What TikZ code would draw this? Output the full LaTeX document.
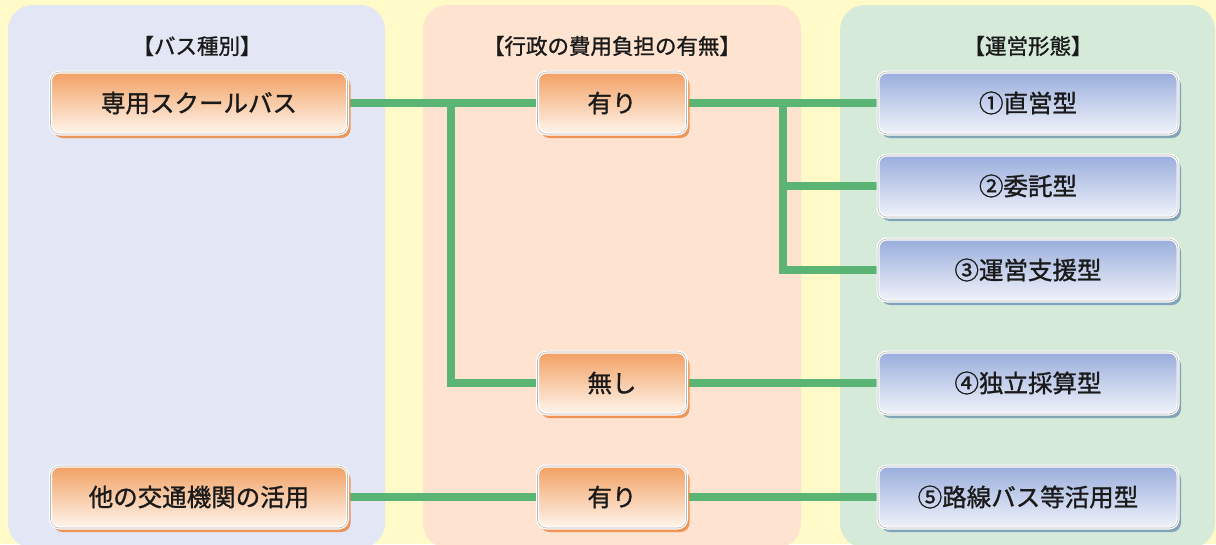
\documentclass[tikz,border=0pt]{standalone}
\usepackage{fontspec}
\newfontfamily\jp[FakeBold=1.2]{Noto Sans CJK JP}
\usetikzlibrary{shadows}
\pgfdeclarelayer{panels}
\pgfdeclarelayer{links}
\pgfsetlayers{panels,links,main}
\definecolor{bgY}{HTML}{FFFAC8}
\definecolor{panB}{HTML}{E2E6F5}
\definecolor{panP}{HTML}{FEE3D0}
\definecolor{panG}{HTML}{D6EADA}
\definecolor{linkG}{HTML}{5AB474}
\definecolor{oTop}{HTML}{F2A062}
\definecolor{oBot}{HTML}{FFF6EE}
\definecolor{oSh}{HTML}{EE8740}
\definecolor{bTop}{HTML}{99ADDC}
\definecolor{bBot}{HTML}{F1F3FB}
\definecolor{bSh}{HTML}{6F93B0}
\definecolor{txt}{HTML}{1A1A1A}
\definecolor{rimG}{HTML}{B8B8B8}
\tikzset{
  panel/.style={rounded corners=25pt},
  hdr/.style={font=\jp\fontsize{21.5}{21.5}\selectfont, text=txt},
  boxbase/.style={rectangle, rounded corners=9pt, draw=white, line width=3pt,
    minimum height=62pt, inner sep=0pt, text=txt,
    font=\jp\fontsize{24.5}{24.5}\selectfont,
    postaction={draw=rimG, line width=0.6pt, rounded corners=8pt}},
  obox/.style={boxbase, top color=oTop, bottom color=oBot,
    drop shadow={shadow xshift=3pt, shadow yshift=-4pt, fill=oSh, opacity=0.85}},
  bbox/.style={boxbase, top color=bTop, bottom color=bBot,
    drop shadow={shadow xshift=3pt, shadow yshift=-4pt, fill=bSh, opacity=0.8}},
  link/.style={draw=linkG, line width=7.5pt}
}
\begin{document}
\begin{tikzpicture}[x=1pt,y=-1pt]
\useasboundingbox (0,0) rectangle (1216,544);
\begin{pgfonlayer}{panels}
\clip (0,0) rectangle (1216,544);
\fill[bgY] (0,0) rectangle (1216,544);
\fill[panB, panel] (8,5) rectangle (385,548);
\fill[panP, panel] (423,5) rectangle (801,548);
\fill[panG, panel] (840,5) rectangle (1215,548);
\end{pgfonlayer}

\node[hdr] (h1) at (197,46) {【バス種別】};
\node[hdr] (h2) at (612,46) {【行政の費用負担の有無】};
\node[hdr] (h3) at (1028,46) {【運営形態】};

\coordinate (b1) at (451,103);
\coordinate (b2) at (783,103);

% nodes
\node[obox, minimum width=297pt] (senyo) at (199,103) {専用スクールバス};
\node[obox, minimum width=297pt] (tano) at (199,497) {他の交通機関の活用};
\node[obox, minimum width=149pt] (ari1) at (612,103) {有り};
\node[obox, minimum width=149pt] (nashi) at (612,383) {無し};
\node[obox, minimum width=149pt] (ari2) at (612,497) {有り};
\node[bbox, minimum width=300pt] (c1) at (1028,103) {①直営型};
\node[bbox, minimum width=300pt] (c2) at (1028,186) {②委託型};
\node[bbox, minimum width=300pt] (c3) at (1028,270) {③運営支援型};
\node[bbox, minimum width=300pt] (c4) at (1028,383) {④独立採算型};
\node[bbox, minimum width=300pt] (c5) at (1028,497) {⑤路線バス等活用型};

\begin{pgfonlayer}{links}
\draw[link] (senyo.east) -- (ari1.west);
\draw[link] (b1) |- (nashi.west);
\draw[link] (ari1.east) -- (c1.west);
\draw[link] (b2) |- (c2.west);
\draw[link] (b2) |- (c3.west);
\draw[link] (nashi.east) -- (c4.west);
\draw[link] (tano.east) -- (ari2.west);
\draw[link] (ari2.east) -- (c5.west);
\end{pgfonlayer}
\end{tikzpicture}
\end{document}
